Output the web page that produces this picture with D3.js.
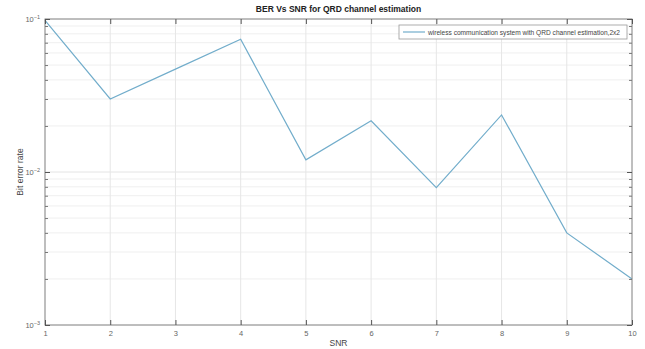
<!DOCTYPE html>
<html>
<head>
<meta charset="utf-8">
<script src="https://cdn.jsdelivr.net/npm/d3@7"></script>
<style>
  html, body { margin: 0; padding: 0; background: #fff; }
  svg { display: block; font-family: "Liberation Sans", Arial, sans-serif; }
</style>
</head>
<body>
<svg id="chart" width="645" height="349"></svg>
<script>
// SNR points and the measured bit error rate at each
const snr = [1, 2, 3, 4, 5, 6, 7, 8, 9, 10];
const ber = [0.098, 0.030, 0.047, 0.0737, 0.012, 0.0216, 0.0079, 0.0236, 0.0040, 0.0020];
const xTicks = [1, 2, 3, 4, 5, 6, 7, 8, 9, 10];
const yDecades = [-3, -2, -1];
const seriesName = "wireless communication system with QRD channel estimation,2x2";

const W = 645, H = 349;
const m = { left: 45, right: 13, top: 19, bottom: 24 };
const svg = d3.select("#chart");

const x = d3.scaleLinear().domain([1, 10]).range([m.left, W - m.right]);
const y = d3.scaleLog().domain([1e-3, 1e-1]).range([H - m.bottom, m.top]);

const x0 = m.left, x1 = W - m.right, y0 = H - m.bottom, y1 = m.top;

// minor values 2..9 within each decade
const minors = [];
for (let d = -3; d < -1; d++) for (let k = 2; k <= 9; k++) minors.push(k * Math.pow(10, d));
const majors = yDecades.map(d => Math.pow(10, d));

const grid = svg.append("g");
// horizontal minor grid
grid.selectAll(".ymin").data(minors).join("line")
  .attr("x1", x0).attr("x2", x1)
  .attr("y1", d => y(d)).attr("y2", d => y(d))
  .attr("stroke", "#efefef").attr("stroke-width", 1);
// horizontal major grid
grid.selectAll(".ymaj").data(majors).join("line")
  .attr("x1", x0).attr("x2", x1)
  .attr("y1", d => y(d)).attr("y2", d => y(d))
  .attr("stroke", "#e4e4e4").attr("stroke-width", 1);
// vertical grid
grid.selectAll(".xg").data(xTicks).join("line")
  .attr("x1", d => x(d)).attr("x2", d => x(d))
  .attr("y1", y0).attr("y2", y1)
  .attr("stroke", "#e6e6e6").attr("stroke-width", 1);

// data line
const line = d3.line().x((d, i) => x(snr[i])).y(d => y(d));
svg.append("path").datum(ber)
  .attr("d", line)
  .attr("fill", "none")
  .attr("stroke", "#72adcb")
  .attr("stroke-width", 1.2);

// axes box
const axisColor = "#8a8a8a";
svg.append("rect").attr("x", x0).attr("y", y1)
  .attr("width", x1 - x0).attr("height", y0 - y1)
  .attr("fill", "none").attr("stroke", axisColor).attr("stroke-width", 1);

// x axis (bottom, with mirrored ticks on top)
const xAxis = d3.axisBottom(x).tickValues(xTicks).tickSizeInner(-5).tickSizeOuter(0).tickPadding(6)
  .tickFormat(d3.format("d"));
const gx = svg.append("g").attr("transform", `translate(0,${y0})`).call(xAxis);
gx.select(".domain").remove();
gx.selectAll("line").attr("stroke", "#555");
gx.selectAll("text").attr("fill", "#666").attr("font-size", 7.5);

const gxTop = svg.append("g").attr("transform", `translate(0,${y1})`)
  .call(d3.axisTop(x).tickValues(xTicks).tickSizeInner(-5).tickSizeOuter(0).tickFormat(""));
gxTop.select(".domain").remove();
gxTop.selectAll("line").attr("stroke", "#555");

// y axis: major ticks with power labels, minor ticks, mirrored on right
const yAxisL = svg.append("g").attr("transform", `translate(${x0},0)`)
  .call(d3.axisLeft(y).tickValues(majors).tickSizeInner(-5).tickSizeOuter(0).tickFormat(""));
yAxisL.select(".domain").remove();
yAxisL.selectAll("line").attr("stroke", "#555");
const yMinL = svg.append("g").attr("transform", `translate(${x0},0)`)
  .call(d3.axisLeft(y).tickValues(minors).tickSizeInner(-3).tickSizeOuter(0).tickFormat(""));
yMinL.select(".domain").remove();
yMinL.selectAll("line").attr("stroke", "#777");

const yAxisR = svg.append("g").attr("transform", `translate(${x1},0)`)
  .call(d3.axisRight(y).tickValues(majors).tickSizeInner(-5).tickSizeOuter(0).tickFormat(""));
yAxisR.select(".domain").remove();
yAxisR.selectAll("line").attr("stroke", "#555");
const yMinR = svg.append("g").attr("transform", `translate(${x1},0)`)
  .call(d3.axisRight(y).tickValues(minors).tickSizeInner(-3).tickSizeOuter(0).tickFormat(""));
yMinR.select(".domain").remove();
yMinR.selectAll("line").attr("stroke", "#777");

// y tick labels as 10^n
const yl = svg.append("g");
yDecades.forEach(d => {
  const t = yl.append("text")
    .attr("x", x0 - 5).attr("y", y(Math.pow(10, d)) + 3)
    .attr("text-anchor", "end").attr("fill", "#666").attr("font-size", 7.5);
  t.append("tspan").text("10");
  t.append("tspan").attr("dy", -3).attr("font-size", 5.5).text(String(d).replace("-", "\u2212"));
});

// title and axis labels
svg.append("text").attr("x", (x0 + x1) / 2).attr("y", 12)
  .attr("text-anchor", "middle").attr("font-size", 8.5).attr("font-weight", "bold")
  .attr("fill", "#222").text("BER Vs SNR for QRD channel estimation");
svg.append("text").attr("x", (x0 + x1) / 2).attr("y", 346)
  .attr("text-anchor", "middle").attr("font-size", 8.5).attr("fill", "#444").text("SNR");
svg.append("text")
  .attr("transform", `translate(23,${(y0 + y1) / 2}) rotate(-90)`)
  .attr("text-anchor", "middle").attr("font-size", 8.5).attr("fill", "#444").text("Bit error rate");

// legend
const lg = svg.append("g").attr("transform", "translate(399,25)");
lg.append("rect").attr("width", 228).attr("height", 14)
  .attr("fill", "#fff").attr("stroke", "#999").attr("stroke-width", 0.8);
lg.append("line").attr("x1", 4).attr("x2", 26).attr("y1", 7).attr("y2", 7)
  .attr("stroke", "#72adcb").attr("stroke-width", 1.2);
lg.append("text").attr("x", 29).attr("y", 9.5).attr("font-size", 6.6).attr("fill", "#444")
  .text(seriesName);
</script>
</body>
</html>
